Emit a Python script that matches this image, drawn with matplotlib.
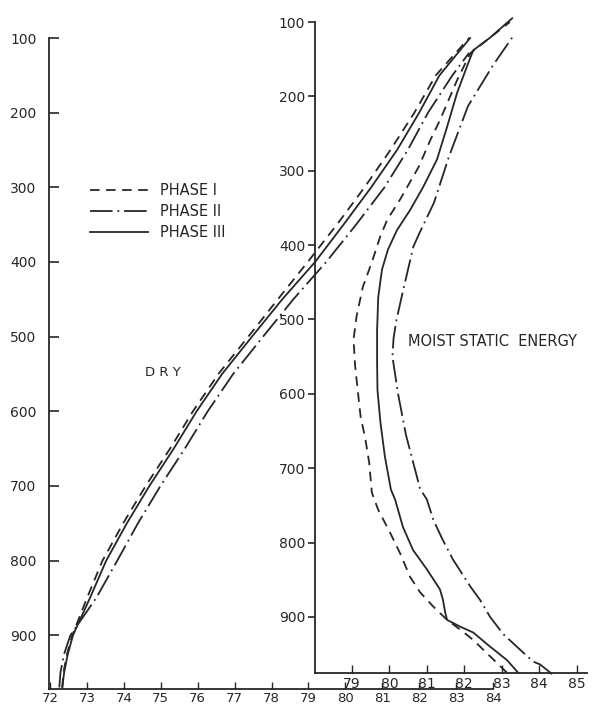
import matplotlib
matplotlib.use("Agg")
import matplotlib.pyplot as plt

# ---------------- data ----------------
# Dry static energy (left axes), pressure levels (hPa)
dry_p = [970, 950, 925, 900, 875, 850, 800, 750, 700, 650, 600, 550, 500,
         450, 400, 350, 300, 250, 200, 150, 100]
dry_phase1 = [72.33, 72.36, 72.46, 72.60, 72.80, 73.00, 73.42, 73.98, 74.59,
              75.25, 75.87, 76.56, 77.37, 78.17, 78.98, 79.77, 80.52, 81.22,
              81.87, 82.45, 83.35]
dry_phase3 = [72.33, 72.38, 72.48, 72.62, 72.85, 73.08, 73.52, 74.08, 74.69,
              75.35, 75.97, 76.66, 77.47, 78.29, 79.18, 79.95, 80.70, 81.40,
              82.00, 82.55, 83.38]
dry_p2 = [970, 950, 925, 900, 875, 850, 800, 750, 700, 650, 600, 550, 500,
          450, 400, 350, 300, 250, 200, 150, 120]
dry_phase2 = [72.25, 72.28, 72.38, 72.55, 72.90, 73.25, 73.82, 74.38, 74.99,
              75.65, 76.27, 76.96, 77.77, 78.59, 79.48, 80.29, 81.06, 81.69,
              82.24, 82.90, 83.35]

# Moist static energy (right axes)
moist_p1 = [975, 953, 931, 917, 904, 886, 867, 846, 814, 787, 756, 733, 693,
            659, 631, 599, 561, 527, 496, 456, 423, 389, 366, 339, 295, 259,
            232, 178, 142, 100]
moist_phase1 = [83.14, 82.69, 82.24, 81.89, 81.54, 81.17, 80.82, 80.55, 80.28,
                80.02, 79.70, 79.53, 79.46, 79.35, 79.23, 79.16, 79.08, 79.04,
                79.12, 79.29, 79.53, 79.75, 79.94, 80.28, 80.78, 81.09, 81.35,
                81.81, 82.16, 83.22]
moist_p3 = [975, 958, 940, 921, 913, 904, 894, 877, 863, 836, 810, 779, 742,
            729, 685, 639, 595, 558, 514, 470, 433, 406, 380, 353, 322, 285,
            241, 195, 160, 138, 121, 95]
moist_phase3 = [83.44, 83.14, 82.69, 82.24, 81.89, 81.54, 81.49, 81.43, 81.35,
                81.00, 80.63, 80.36, 80.15, 80.04, 79.88, 79.76, 79.68, 79.67,
                79.67, 79.70, 79.80, 79.96, 80.20, 80.55, 80.90, 81.27, 81.54,
                81.81, 82.07, 82.24, 82.69, 83.28]
moist_p2 = [977, 964, 960, 944, 923, 900, 877, 859, 823, 795, 769, 742, 728,
            655, 600, 550, 525, 500, 462, 402, 384, 343, 281, 213, 158, 121]
moist_phase2 = [84.35, 84.03, 83.84, 83.49, 83.04, 82.69, 82.42, 82.16, 81.70,
                81.41, 81.17, 81.00, 80.82, 80.44, 80.23, 80.08, 80.11, 80.19,
                80.36, 80.64, 80.80, 81.19, 81.59, 82.10, 82.77, 83.28]

p_ticks = [100, 200, 300, 400, 500, 600, 700, 800, 900]
dry_xticks = list(range(72, 85))
moist_xticks = list(range(79, 86))

labels = ["PHASE I", "PHASE II", "PHASE III"]

# ---------------- style ----------------
col = "#262626"
lw = 1.3
ls1 = (0, (5.3, 3.6))
ls2 = (0, (12.5, 2.7, 1.0, 2.7))
ls3 = "-"
fs = 10

fig = plt.figure(figsize=(5.93, 7.09), dpi=100)

# left (dry) axes
axL = fig.add_axes([49/593, 1-689/709, (493-49)/593, (689-38)/709])
axL.set_xlim(71.97, 84.0)
axL.set_ylim(972, 100)
for s in ["top", "right"]:
    axL.spines[s].set_visible(False)
for s in ["left", "bottom"]:
    axL.spines[s].set_color(col)
    axL.spines[s].set_linewidth(1.3)
axL.set_yticks(p_ticks)
axL.set_yticklabels([str(v) for v in p_ticks])
axL.set_xticks(dry_xticks)
axL.set_xticklabels([str(v) for v in dry_xticks])
axL.tick_params(axis="y", direction="in", length=7, width=1.2, pad=9,
                labelsize=fs, colors=col)
axL.tick_params(axis="x", direction="in", length=5, width=1.0, pad=2,
                labelsize=fs - 0.5, colors=col)
axL.patch.set_alpha(0)

h1, = axL.plot(dry_phase1, dry_p, color=col, lw=lw, linestyle=ls1, clip_on=False)
h2, = axL.plot(dry_phase2, dry_p2, color=col, lw=lw, linestyle=ls2, clip_on=False)
h3, = axL.plot(dry_phase3, dry_p, color=col, lw=lw, linestyle=ls3, clip_on=False)

axL.text(75.05, 548, "D R Y", fontsize=fs - 0.5, color=col, ha="center",
         va="center")

# right (moist) axes
axR = fig.add_axes([315/593, 1-672.7/709, (587-315)/593, (672.7-22)/709])
axR.patch.set_alpha(0)
axR.set_xlim(78.01, 85.28)
axR.set_ylim(975, 100)
for s in ["top", "right"]:
    axR.spines[s].set_visible(False)
for s in ["left", "bottom"]:
    axR.spines[s].set_color(col)
    axR.spines[s].set_linewidth(1.3)
axR.set_yticks(p_ticks)
axR.set_yticklabels([str(v) for v in p_ticks])
axR.set_xticks(moist_xticks)
axR.set_xticklabels([str(v) for v in moist_xticks])
axR.tick_params(axis="y", direction="out", length=5, width=1.2, pad=2,
                labelsize=fs, colors=col)
axR.tick_params(axis="x", direction="in", length=6, width=1.0, pad=3,
                labelsize=fs, colors=col)

axR.plot(moist_phase1, moist_p1, color=col, lw=lw, linestyle=ls1, clip_on=False)
axR.plot(moist_phase2, moist_p2, color=col, lw=lw, linestyle=ls2, clip_on=False)
axR.plot(moist_phase3, moist_p3, color=col, lw=lw, linestyle=ls3, clip_on=False)

axR.text(80.5, 530, "MOIST STATIC  ENERGY", fontsize=fs + 0.5, color=col,
         ha="left", va="center")

leg = axL.legend([h1, h2, h3], labels, loc="upper left",
                 bbox_to_anchor=(90/593, 1-183/709),
                 bbox_transform=fig.transFigure, frameon=False,
                 handlelength=4.0, handletextpad=0.8, labelspacing=0.4,
                 borderpad=0, borderaxespad=0, fontsize=fs + 0.5)
for t in leg.get_texts():
    t.set_color(col)

fig.savefig("out.png", dpi=100)
